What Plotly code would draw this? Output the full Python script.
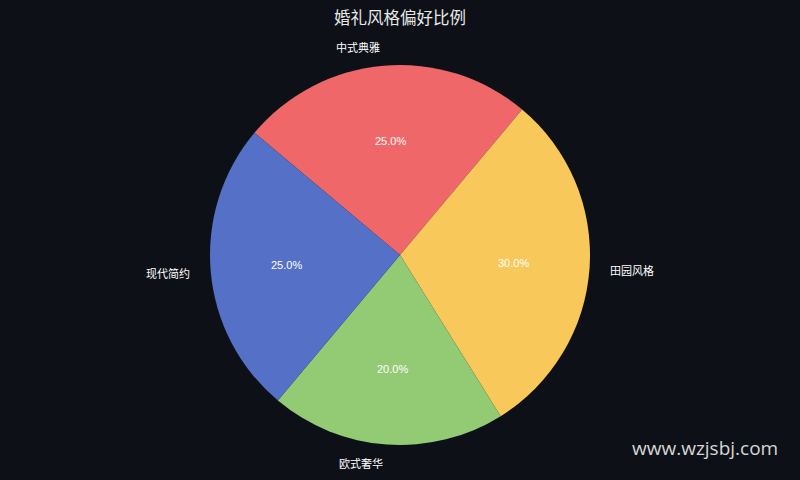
import math
import plotly.graph_objects as go

# wedding style preference data
styles = ['中式典雅', '田园风格', '欧式奢华', '现代简约']
shares = [25, 30, 20, 25]
colors = ['#ef6769', '#f9c85a', '#93cb74', '#5571c7']

FONT = 'Noto Sans CJK SC'
BG = '#0d1117'
W, H = 800, 480
START = -50  # clockwise degrees from 12 o'clock where the first slice starts

# pie box in pixels (centre 400,255 radius 190)
cx, cy, r = 400, 255, 190

fig = go.Figure(go.Pie(
    labels=styles,
    values=shares,
    sort=False,
    direction='clockwise',
    rotation=START,
    marker=dict(colors=colors, line=dict(width=0)),
    textinfo='none',
    showlegend=False,
    hoverinfo='label+percent',
    domain=dict(x=[(cx - r) / W, (cx + r) / W], y=[1 - (cy + r) / H, 1 - (cy - r) / H]),
))

# matplotlib-like labels: category at 1.1 r, percentage at 0.6 r
total = sum(shares)
annotations = []
angle = START
for name, val in zip(styles, shares):
    mid = math.radians(angle + 360 * val / total / 2)
    angle += 360 * val / total
    sx, sy = math.sin(mid), math.cos(mid)
    annotations.append(dict(
        text=name, xref='paper', yref='paper',
        x=(cx + 1.1 * r * sx) / W, y=1 - (cy - 1.1 * r * sy) / H,
        xanchor='left' if sx > 0 else 'right', yanchor='middle', showarrow=False,
        font=dict(size=11, color='white', family=FONT),
    ))
    annotations.append(dict(
        text=f'{100 * val / total:.1f}%', xref='paper', yref='paper',
        x=(cx + 0.6 * r * sx) / W, y=1 - (cy - 0.6 * r * sy) / H,
        xanchor='center', yanchor='middle', showarrow=False,
        font=dict(size=11, color='white', family='Liberation Sans'),
    ))

annotations.append(dict(
    text='www.wzjsbj.com', xref='paper', yref='paper', x=780 / W, y=1 - 448 / H,
    xanchor='right', yanchor='middle', showarrow=False,
    font=dict(size=19, color='#d6d6d6', family='Open Sans'),
))

fig.update_layout(
    title=dict(text='婚礼风格偏好比例', x=0.5, xanchor='center', y=1 - 18 / H, yanchor='middle',
               font=dict(size=16.5, color='#e8e8e8', family=FONT)),
    paper_bgcolor=BG,
    plot_bgcolor=BG,
    width=W,
    height=H,
    margin=dict(l=0, r=0, t=0, b=0),
    annotations=annotations,
)

fig.write_html('out.html', config={'displayModeBar': False},
               post_script="document.body.style.margin='0';"
                           "document.body.style.background='#0d1117';")
